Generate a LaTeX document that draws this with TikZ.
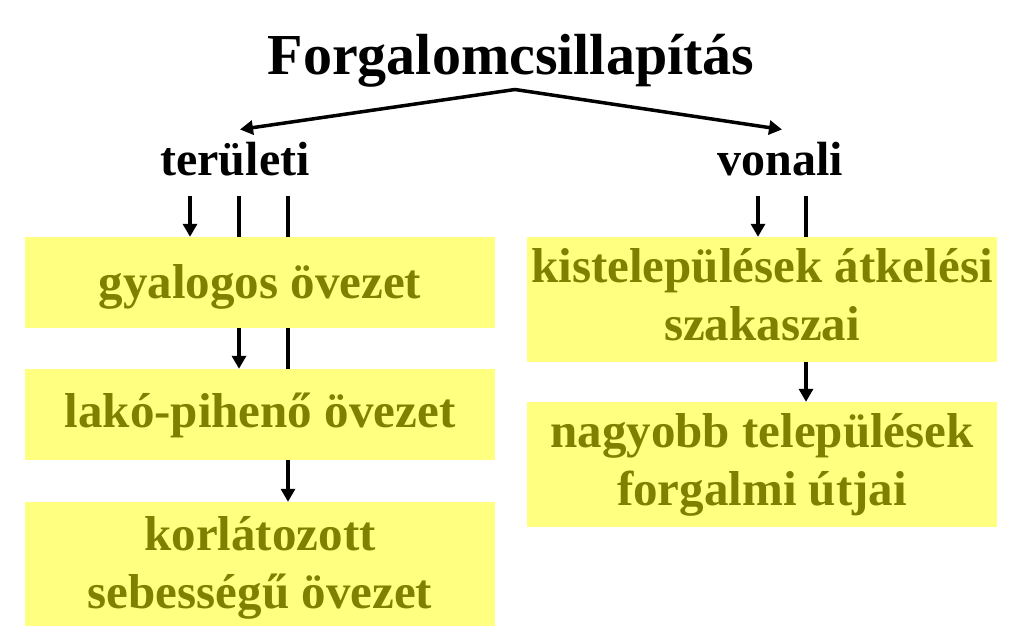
\documentclass[tikz,border=0pt]{standalone}
\usepackage{fontspec}
\setmainfont{Liberation Serif}
\usetikzlibrary{arrows.meta}
\definecolor{boxfill}{RGB}{255,255,128}
\definecolor{boxtext}{RGB}{128,128,0}
\pgfdeclarelayer{bg}
\pgfsetlayers{bg,main}
\begin{document}
\begin{tikzpicture}[x=1pt,y=-1pt,
  box/.style={fill=boxfill, text=boxtext, font=\fontsize{49}{58}\selectfont\bfseries, minimum width=470pt, align=center, inner sep=0pt},
  onebox/.style={box, minimum height=91pt, text height=33pt},
  twobox/.style={box, minimum height=125pt, text height=91pt},
  lbl/.style={font=\fontsize{48}{58}\selectfont\bfseries, anchor=base, inner sep=0pt},
  conn/.style={line width=4pt, -{Triangle[length=13pt,width=14pt]}},
  topconn/.style={line width=3.5pt, -{Triangle[length=13pt,width=14pt]}}]
\useasboundingbox (0,0) rectangle (1024,644);
\node[lbl, font=\fontsize{58}{70}\selectfont\bfseries] (title) at (511,75) {Forgalomcsillapítás};
\node[lbl] (terul) at (235,176) {területi};
\node[lbl] (vonal) at (780,176) {vonali};
\node[onebox, text depth=2pt] (gyal) at (260,282.5) {gyalogos övezet};
\node[onebox, text depth=8pt] (lako) at (260,414.5) {lakó-pihenő övezet};
\node[twobox, minimum height=124pt, text depth=3pt] (korl) at (260,564) {korlátozott\\sebességű övezet};
\node[twobox, text depth=10pt] (kist) at (762,299.5) {kistelepülések átkelési\\szakaszai};
\node[twobox, text depth=10pt] (nagy) at (762,464.5) {nagyobb települések\\forgalmi útjai};
\begin{pgfonlayer}{bg}
\coordinate (split) at (515,89.5);
\draw[topconn] (split) -- ([xshift=5pt,yshift=13pt]terul.north);
\draw[topconn] (split) -- ([xshift=2pt,yshift=13pt]vonal.north);
\coordinate (a1) at (190,196);
\coordinate (a2) at (239,196);
\coordinate (a3) at (288,196);
\coordinate (b1) at (758,196);
\coordinate (b2) at (806,196);
\draw[conn] (a1) -- (a1 |- gyal.north);
\draw[conn] (a2) -- (a2 |- lako.north);
\draw[conn] (a3) -- (a3 |- korl.north);
\draw[conn] (b1) -- (b1 |- kist.north);
\draw[conn] (b2) -- (b2 |- nagy.north);
\end{pgfonlayer}
\end{tikzpicture}
\end{document}
